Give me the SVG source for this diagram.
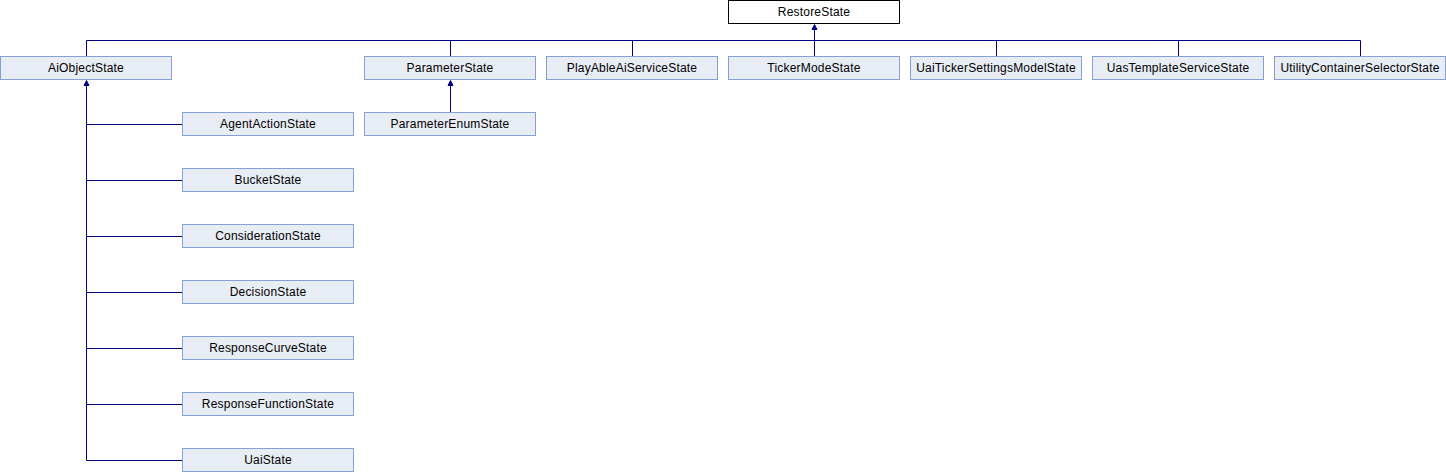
<svg xmlns="http://www.w3.org/2000/svg" width="1446" height="472" viewBox="0 0 1446 472">
<style>
.n rect{fill:#E8ECF5;stroke:#84A0D4;stroke-width:1}
.r rect{fill:#FFFFFF;stroke:#000000;stroke-width:1}
text{font-family:"Liberation Sans",Arial,sans-serif;font-size:12px;letter-spacing:0.2px;text-anchor:middle;fill:#000}
.e{fill:none;stroke:#000080;stroke-width:1}
.a{fill:#000080;stroke:#000080;stroke-width:1}
</style>
<rect width="1446" height="472" fill="#FFFFFF"/>
<g id="connectors">
<path class="e" d="M814.5,29 V40.5 M86.5,40.5 H1360.5 M86.5,40.5 V56.5 M450.5,40.5 V56.5 M632.5,40.5 V56.5 M814.5,40.5 V56.5 M996.5,40.5 V56.5 M1178.5,40.5 V56.5 M1360.5,40.5 V56.5"/>
<polygon class="a" points="814.5,24.5 812,29.5 817,29.5"/>
<path class="e" d="M450.5,85 V112.5"/>
<polygon class="a" points="450.5,80.5 448,85.5 453,85.5"/>
<path class="e" d="M86.5,85 V460.5 M86.5,124.5 H182.5 M86.5,180.5 H182.5 M86.5,236.5 H182.5 M86.5,292.5 H182.5 M86.5,348.5 H182.5 M86.5,404.5 H182.5 M86.5,460.5 H182.5"/>
<polygon class="a" points="86.5,80.5 84,85.5 89,85.5"/>
</g>
<g id="RestoreState" class="r"><rect x="728.5" y="0.5" width="171" height="23"/><text x="814" y="16">RestoreState</text></g>
<g id="AiObjectState" class="n"><rect x="0.5" y="56.5" width="171" height="23"/><text x="86" y="72">AiObjectState</text></g>
<g id="ParameterState" class="n"><rect x="364.5" y="56.5" width="171" height="23"/><text x="450" y="72">ParameterState</text></g>
<g id="PlayAbleAiServiceState" class="n"><rect x="546.5" y="56.5" width="171" height="23"/><text x="632" y="72">PlayAbleAiServiceState</text></g>
<g id="TickerModeState" class="n"><rect x="728.5" y="56.5" width="171" height="23"/><text x="814" y="72">TickerModeState</text></g>
<g id="UaiTickerSettingsModelState" class="n"><rect x="910.5" y="56.5" width="171" height="23"/><text x="996" y="72">UaiTickerSettingsModelState</text></g>
<g id="UasTemplateServiceState" class="n"><rect x="1092.5" y="56.5" width="171" height="23"/><text x="1178" y="72">UasTemplateServiceState</text></g>
<g id="UtilityContainerSelectorState" class="n"><rect x="1274.5" y="56.5" width="171" height="23"/><text x="1360" y="72">UtilityContainerSelectorState</text></g>
<g id="ParameterEnumState" class="n"><rect x="364.5" y="112.5" width="171" height="23"/><text x="450" y="128">ParameterEnumState</text></g>
<g id="AgentActionState" class="n"><rect x="182.5" y="112.5" width="171" height="23"/><text x="268" y="128">AgentActionState</text></g>
<g id="BucketState" class="n"><rect x="182.5" y="168.5" width="171" height="23"/><text x="268" y="184">BucketState</text></g>
<g id="ConsiderationState" class="n"><rect x="182.5" y="224.5" width="171" height="23"/><text x="268" y="240">ConsiderationState</text></g>
<g id="DecisionState" class="n"><rect x="182.5" y="280.5" width="171" height="23"/><text x="268" y="296">DecisionState</text></g>
<g id="ResponseCurveState" class="n"><rect x="182.5" y="336.5" width="171" height="23"/><text x="268" y="352">ResponseCurveState</text></g>
<g id="ResponseFunctionState" class="n"><rect x="182.5" y="392.5" width="171" height="23"/><text x="268" y="408">ResponseFunctionState</text></g>
<g id="UaiState" class="n"><rect x="182.5" y="448.5" width="171" height="23"/><text x="268" y="464">UaiState</text></g>
</svg>
